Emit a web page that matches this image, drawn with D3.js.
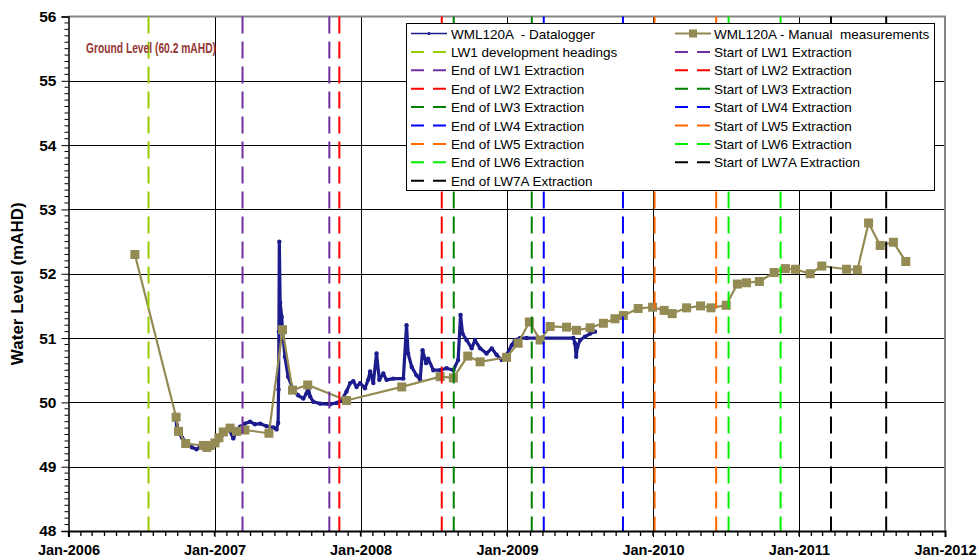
<!DOCTYPE html>
<html><head><meta charset="utf-8">
<script src="https://cdn.jsdelivr.net/npm/d3@7"></script>
<style>
body{margin:0;background:#fff}
text{font-family:"Liberation Sans",Arial,sans-serif}
</style></head>
<body><svg id="c" width="979" height="560"></svg>
<script>
// ---------------- DATA ----------------
const manualDates = ["2006-06-16","2006-09-27","2006-10-03","2006-10-21","2006-12-04","2006-12-13","2006-12-21",
 "2007-01-02","2007-01-12","2007-01-23","2007-02-09","2007-02-25","2007-03-18","2007-05-17","2007-06-20","2007-07-15",
 "2007-08-22","2007-11-27","2008-04-13","2008-07-18","2008-08-20","2008-09-25","2008-10-26","2008-12-31",
 "2009-01-29","2009-02-26","2009-03-25","2009-04-19","2009-05-30","2009-06-24","2009-07-28","2009-08-30",
 "2009-09-28","2009-10-19","2009-11-25","2009-12-31","2010-01-29","2010-02-18","2010-03-26","2010-04-30",
 "2010-05-26","2010-07-03","2010-07-31","2010-08-23","2010-09-24","2010-10-31","2010-11-28","2010-12-23",
 "2011-01-29","2011-02-27","2011-04-30","2011-05-27","2011-06-24","2011-07-23","2011-08-25","2011-09-25"];
const manualValues = [52.30,49.77,49.55,49.36,49.33,49.30,49.33,
 49.37,49.45,49.54,49.60,49.55,49.57,49.52,51.13,50.19,
 50.27,50.03,50.24,50.40,50.38,50.72,50.63,50.70,
 50.92,51.25,50.97,51.18,51.17,51.12,51.16,51.23,
 51.30,51.35,51.46,51.48,51.43,51.38,51.47,51.50,
 51.47,51.51,51.84,51.86,51.88,52.02,52.08,52.07,
 52.00,52.12,52.07,52.06,52.79,52.44,52.49,52.19];

const loggerDates = ["2006-09-24","2006-09-29","2006-10-04","2006-10-12","2006-10-25","2006-11-06","2006-11-17",
 "2006-11-26","2006-12-08","2006-12-26","2007-01-10","2007-01-25","2007-02-06","2007-02-17","2007-02-26",
 "2007-03-06","2007-03-18","2007-03-31","2007-04-12","2007-04-25","2007-05-11","2007-05-28","2007-06-05",
 "2007-06-09","2007-06-10","2007-06-11","2007-06-12","2007-06-14","2007-06-18","2007-06-20","2007-06-26",
 "2007-07-04","2007-07-17","2007-07-29","2007-08-11","2007-08-19","2007-08-23","2007-08-28","2007-09-05",
 "2007-09-22","2007-10-17","2007-11-02","2007-11-15","2007-11-27","2007-12-06","2007-12-14","2007-12-22",
 "2007-12-31","2008-01-12","2008-01-20","2008-01-25","2008-02-02","2008-02-10","2008-02-17","2008-02-27",
 "2008-03-06","2008-03-23","2008-04-17","2008-04-25","2008-04-29","2008-05-08","2008-05-20","2008-05-29",
 "2008-06-04","2008-06-13","2008-06-18","2008-07-01","2008-07-18","2008-08-03","2008-08-20","2008-09-01",
 "2008-09-07","2008-09-12","2008-09-22","2008-10-05","2008-10-13","2008-10-26","2008-11-11","2008-11-24",
 "2008-12-06","2008-12-19","2008-12-31","2009-01-13","2009-01-21","2009-02-03","2009-02-19","2009-06-16",
 "2009-06-20","2009-06-23","2009-06-26","2009-07-03","2009-07-15","2009-07-28","2009-08-09"];
const loggerValues = [49.78,49.65,49.52,49.45,49.36,49.30,49.27,
 49.31,49.30,49.34,49.40,49.52,49.58,49.44,49.55,
 49.62,49.67,49.70,49.66,49.67,49.63,49.61,49.58,
 49.68,50.20,51.10,52.50,51.55,51.33,51.12,50.71,
 50.40,50.19,50.11,50.06,50.14,50.24,50.09,50.01,
 49.98,49.97,49.99,50.04,50.17,50.30,50.33,50.24,
 50.30,50.22,50.35,50.48,50.30,50.76,50.35,50.45,
 50.35,50.37,50.37,51.20,50.76,50.55,50.42,50.35,
 50.81,50.61,50.68,50.50,50.50,50.53,50.50,50.66,
 51.36,51.07,50.97,50.84,50.97,50.84,50.76,50.84,
 50.74,50.66,50.74,50.89,50.97,51.00,51.00,51.00,
 50.92,50.71,50.86,50.97,51.02,51.07,51.10];

const eventNames = ["LW1 development headings","Start of LW1 Extraction","End of LW1 Extraction",
 "Start of LW2 Extraction","End of LW2 Extraction","Start of LW3 Extraction","End of LW3 Extraction",
 "Start of LW4 Extraction","End of LW4 Extraction","Start of LW5 Extraction","End of LW5 Extraction",
 "Start of LW6 Extraction","End of LW6 Extraction","Start of LW7A Extraction","End of LW7A Extraction"];
const eventDates = ["2006-07-20","2007-03-12","2007-10-15","2007-11-09","2008-07-22","2008-08-21","2009-03-04",
 "2009-04-03","2009-10-18","2010-01-05","2010-06-08","2010-07-09","2010-11-16","2011-03-22","2011-08-07"];
const eventColors = ["#99CC00","#7030A0","#7030A0","#FF0000","#FF0000","#008000","#008000",
 "#0000FF","#0000FF","#FF6600","#FF6600","#00F000","#00F000","#000000","#000000"];

const yTickValues = [48,49,50,51,52,53,54,55,56];
const xTickLabels = ["Jan-2006","Jan-2007","Jan-2008","Jan-2009","Jan-2010","Jan-2011","Jan-2012"];
const loggerName = "WML120A  - Datalogger";
const manualName = "WML120A - Manual  measurements";
const groundLabel = "Ground Level (60.2 mAHD)";
const yTitle = "Water Level (mAHD)";

// ---------------- CHART ----------------
const parse = d3.utcParse("%Y-%m-%d");
const L = 68.5, R = 945, T = 16.5, B = 531;
const svg = d3.select("#c");
const x = d3.scaleUtc().domain([Date.UTC(2006,0,1), Date.UTC(2012,0,1)]).range([L, R]);
const y = d3.scaleLinear().domain([48, 56]).range([B, T]);

// gridlines
const g = svg.append("g");
g.selectAll(".hg").data(yTickValues.slice(1, -1)).join("line")
  .attr("x1", L).attr("x2", R).attr("y1", d => Math.round(y(d))+0.5).attr("y2", d => Math.round(y(d))+0.5)
  .attr("stroke", "#000").attr("stroke-width", 1);
const yearTicks = d3.utcYear.range(Date.UTC(2006,0,1), Date.UTC(2012,0,2));
g.selectAll(".vg").data(yearTicks.slice(1, -1)).join("line")
  .attr("x1", d => Math.round(x(d))+0.5).attr("x2", d => Math.round(x(d))+0.5).attr("y1", T).attr("y2", B)
  .attr("stroke", "#000").attr("stroke-width", 1);

// border top/right
svg.append("path").attr("d", `M${L},${T}H${R}V${B}`).attr("fill","none").attr("stroke","#858585").attr("stroke-width",2);

// datalogger
const loggerData = loggerDates.map((d,i) => ({d: parse(d), v: loggerValues[i]}));
const line = d3.line().x(p => x(p.d)).y(p => y(p.v));
svg.append("path").datum(loggerData).attr("d", line).attr("fill","none")
  .attr("stroke","#1C1C8E").attr("stroke-width",3.2).attr("stroke-linejoin","round");
svg.append("g").selectAll("circle").data(loggerData).join("circle")
  .attr("cx", p => x(p.d)).attr("cy", p => y(p.v)).attr("r", 2.2).attr("fill","#1C1C8E");

// manual
const manualData = manualDates.map((d,i) => ({d: parse(d), v: manualValues[i]}));
svg.append("path").datum(manualData).attr("d", line).attr("fill","none")
  .attr("stroke","#948A54").attr("stroke-width",2.2);
svg.append("g").selectAll("rect").data(manualData).join("rect")
  .attr("x", p => x(p.d)-4.5).attr("y", p => y(p.v)-4.5).attr("width",9).attr("height",9)
  .attr("fill","#948A54");

// events
svg.append("g").selectAll("line").data(eventDates).join("line")
  .attr("x1", d => x(parse(d))).attr("x2", d => x(parse(d))).attr("y1", T).attr("y2", B)
  .attr("stroke", (d,i) => eventColors[i]).attr("stroke-width", 2).attr("stroke-dasharray","17,8");

// axes
const yAxis = d3.axisLeft(y).tickValues(yTickValues).tickSize(7).tickPadding(5).tickFormat(d3.format("d"));
const ya = svg.append("g").attr("transform", `translate(${L},0)`).call(yAxis);
ya.select(".domain").attr("stroke","#000").attr("stroke-width",1.5);
ya.selectAll("text").attr("font-size",15.5).attr("font-weight","bold").attr("fill","#000")
  .attr("font-family",'"Liberation Sans",Arial,sans-serif');
const yMinor = d3.range(480, 561).filter(v => v % 10 !== 0).map(v => v/10);
svg.append("g").selectAll("line").data(yMinor).join("line")
  .attr("x1", L-4).attr("x2", L).attr("y1", d => y(d)).attr("y2", d => y(d)).attr("stroke","#000").attr("stroke-width",1);

const xAxis = d3.axisBottom(x).tickValues(yearTicks).tickSize(6).tickPadding(8)
  .tickFormat((d,i) => xTickLabels[i]);
const xa = svg.append("g").attr("transform", `translate(0,${B})`).call(xAxis);
xa.select(".domain").attr("stroke","#000").attr("stroke-width",2);
xa.selectAll("text").attr("font-size",14.5).attr("font-weight","bold").attr("fill","#000")
  .attr("font-family",'"Liberation Sans",Arial,sans-serif');
const months = d3.utcMonth.range(Date.UTC(2006,0,1), Date.UTC(2012,0,1));
svg.append("g").selectAll("line").data(months).join("line")
  .attr("x1", d => x(d)).attr("x2", d => x(d)).attr("y1", B).attr("y2", B+5).attr("stroke","#000").attr("stroke-width",1.3);

// y title
svg.append("text").attr("transform", `translate(23,${(T+B)/2+10}) rotate(-90)`).attr("text-anchor","middle")
  .attr("font-size",17).attr("font-weight","bold").text(yTitle);

// ground level annotation
svg.append("text").attr("x",86).attr("y",53).attr("font-size",14).attr("font-weight","bold")
  .attr("fill","#953735").attr("textLength",130).attr("lengthAdjust","spacingAndGlyphs").text(groundLabel);

// legend
const lg = svg.append("g");
lg.append("rect").attr("x",406.5).attr("y",23.5).attr("width",528).attr("height",167)
  .attr("fill","#fff").attr("stroke","#000").attr("stroke-width",1);
const leftCol = [{name: loggerName, type:"logger"}, {name: eventNames[0], color: eventColors[0]}];
const rightCol = [{name: manualName, type:"manual"}];
for (let i = 1; i < eventNames.length; i += 2) {
  rightCol.push({name: eventNames[i], color: eventColors[i]});
  leftCol.push({name: eventNames[i+1], color: eventColors[i+1]});
}
const rowH = 18.4, row0 = 33.5;
function drawCol(items, sx, tx) {
  items.forEach((it, i) => {
    const cy = row0 + i*rowH;
    if (it.type === "logger") {
      lg.append("line").attr("x1",sx).attr("x2",sx+36).attr("y1",cy).attr("y2",cy).attr("stroke","#1C1C8E").attr("stroke-width",1.3);
      lg.append("circle").attr("cx",sx+18).attr("cy",cy).attr("r",1.6).attr("fill","#1C1C8E");
    } else if (it.type === "manual") {
      lg.append("line").attr("x1",sx).attr("x2",sx+36).attr("y1",cy).attr("y2",cy).attr("stroke","#948A54").attr("stroke-width",2);
      lg.append("rect").attr("x",sx+14).attr("y",cy-4).attr("width",8).attr("height",8).attr("fill","#948A54");
    } else {
      lg.append("line").attr("x1",sx).attr("x2",sx+36).attr("y1",cy).attr("y2",cy).attr("stroke",it.color)
        .attr("stroke-width",2).attr("stroke-dasharray","13,9");
    }
    lg.append("text").attr("x",tx).attr("y",cy+5).attr("font-size",13.5).style("white-space","pre").text(it.name);
  });
}
drawCol(leftCol, 411, 451);
drawCol(rightCol, 675, 714);
</script></body></html>
